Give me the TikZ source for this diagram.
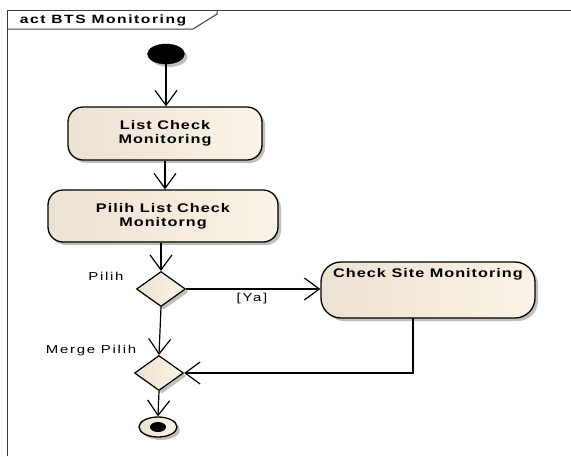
\documentclass[tikz,border=0pt]{standalone}
\usepackage{fontspec}
\setmainfont{Liberation Sans}[FakeStretch=1.3, LetterSpace=8]
\usetikzlibrary{arrows.meta,shapes.geometric,shadows}
\definecolor{fillA}{RGB}{236,226,211}
\definecolor{fillB}{RGB}{251,243,229}
\definecolor{shadowc}{RGB}{175,175,175}
\definecolor{framec}{RGB}{60,60,60}
\tikzset{
  shade/.style={drop shadow={shadow xshift=3pt, shadow yshift=-3pt, fill=shadowc, opacity=0.8}},
  actbox/.style={draw=black, line width=1.3pt, rounded corners=15pt, left color=fillA, right color=fillB, shade,
    align=center, font=\fontsize{12.5}{14}\selectfont\bfseries, inner sep=0pt},
  decbox/.style={diamond, draw=black, line width=1.2pt, left color=fillA, right color=fillB, shade,
    minimum width=49pt, minimum height=35pt, inner sep=0pt, aspect=1.4},
  flow/.style={draw=black, line width=1.2pt, -{Straight Barb[length=15pt,width=22pt,line width=1.2pt]}},
  lbl/.style={font=\fontsize{11.5}{13}\selectfont\addfontfeature{LetterSpace=15}, inner sep=0pt},
}
\begin{document}
\begin{tikzpicture}[x=1pt,y=-1pt]
\useasboundingbox (0,0) rectangle (571,456);
% frame
\draw[framec, line width=1pt] (7,456) -- (7,10) -- (571,10);
\draw[framec, line width=1pt] (7,29) -- (193,29) -- (217,14) -- (217,10);
\node[font=\fontsize{12}{14}\selectfont\bfseries\addfontfeature{LetterSpace=13}, inner sep=0pt] (title) at (103,20) {act BTS Monitoring};
% nodes
\node[ellipse, fill=black, draw=black, minimum width=37pt, minimum height=20pt, inner sep=0pt, shade] (init) at (166,54) {};
\node[actbox, minimum width=194pt, minimum height=53pt] (list) at (165,133.5) {List Check\\Monitoring};
\node[actbox, minimum width=230pt, minimum height=52pt] (pilih) at (163,216) {Pilih List Check\\Monitorng};
\node[decbox] (dec) at (161,289) {};
\node[actbox, rounded corners=20pt, minimum width=214pt, minimum height=56pt,
  label={[anchor=north, yshift=-7pt, font=\fontsize{12.5}{14}\selectfont\bfseries, inner sep=0pt]north:Check Site Monitoring}] (check) at (428,290) {};
\node[decbox] (merge) at (159,373) {};
\node[ellipse, draw=black, line width=1.3pt, left color=fillA, right color=fillB, minimum width=38pt, minimum height=20pt, inner sep=0pt, shade] (final) at (158,427) {};
\node[ellipse, fill=black, minimum width=16pt, minimum height=10pt, inner sep=0pt] (finaldot) at (final.center) {};
% labels
\node[lbl] (lpilih) at (106,276) {Pilih};
\node[lbl] (lya) at (252,299) {[Ya]};
\node[lbl] (lmerge) at (91,351) {Merge Pilih};
% connectors
\draw[flow] (init.south) -- (init.south |- list.north);
\draw[flow] (list.south) -- (list.south |- pilih.north);
\draw[flow] (dec.north |- pilih.south) -- (dec.north);
\draw[flow] (dec.east) -- (check.west |- dec.east);
\coordinate (cb) at (413,318);
\coordinate (cc) at (413,373);
\draw[flow] (cb) -- (cc) -- (merge.east);
\draw[flow] (dec.south) -- (merge.north);
\draw[flow] (merge.south) -- (final.north);
\end{tikzpicture}
\end{document}
